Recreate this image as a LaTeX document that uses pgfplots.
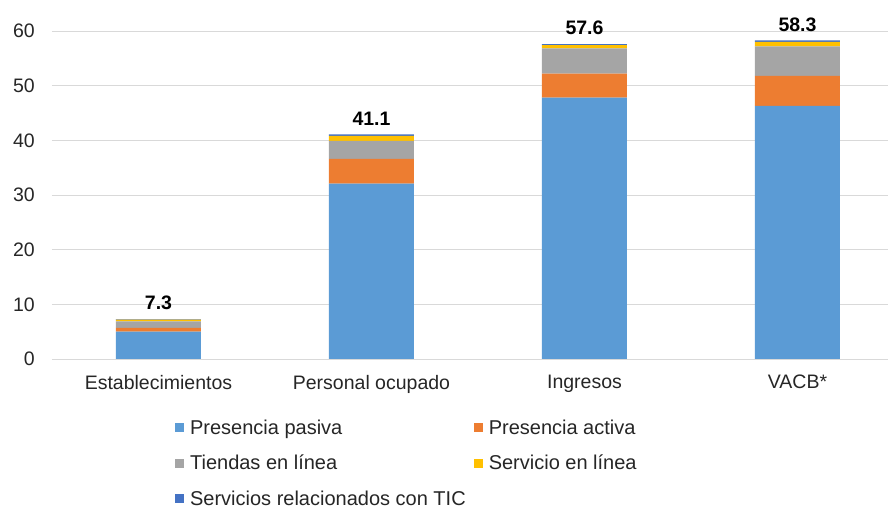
\documentclass[border=0pt]{standalone}
\usepackage{pgfplots}
\pgfplotsset{compat=1.18}
\usepackage{fontspec}
\setmainfont{Liberation Sans}
\definecolor{cpas}{HTML}{5B9BD5}
\definecolor{cact}{HTML}{ED7D31}
\definecolor{ctie}{HTML}{A5A5A5}
\definecolor{cser}{HTML}{FFC000}
\definecolor{ctic}{HTML}{4472C4}
\definecolor{cgrid}{HTML}{D9D9D9}
\begin{document}
\begin{tikzpicture}
\useasboundingbox (-52pt,-151pt) rectangle (836pt,359pt);
\begin{axis}[
  at={(0,0)}, anchor=south west,
  scale only axis, width=836pt, height=328pt,
  ybar stacked, bar width=85pt,
  xmin=-0.5, xmax=3.425, ymin=0, ymax=60,
  ytick={0,10,...,60},
  xtick={0,1,2,3},
  xticklabels={Establecimientos, Personal ocupado, Ingresos, VACB*},
  axis line style={draw=none},
  major tick length=0pt,
  ymajorgrids, grid style={cgrid, line width=0.8pt},
  /pgf/number format/assume math mode=true,
  tick label style={font=\fontsize{19.5}{23}\selectfont, text=black!85},
  yticklabel style={inner sep=0pt, xshift=-17pt},
  xticklabel style={inner sep=0pt, yshift=-16pt},
  clip=false,
  legend columns=2,
  legend style={draw=none, at={(0.147,-0.178)}, anchor=north west, inner sep=0pt,
    font=\fontsize{20}{24}\selectfont, text=black!85,
    cells={anchor=west}, row sep=15.5pt,
    /tikz/every even column/.append style={column sep=6pt}},
  legend image code/.code={\fill[#1] (0pt,-4.5pt) rectangle (9pt,4.5pt); \path (13pt,0pt);},
]
\addplot[fill=cpas, draw=none] coordinates {(0,5.0) (1,32.1) (2,47.8) (3,46.3)};
\addplot[fill=cact, draw=none] coordinates {(0,0.7) (1,4.5) (2,4.4) (3,5.5)};
\addplot[fill=ctie, draw=none] coordinates {(0,1.2) (1,3.3) (2,4.6) (3,5.4)};
\addplot[fill=cser, draw=none] coordinates {(0,0.3) (1,0.9) (2,0.6) (3,0.8)};
\addplot[fill=ctic, draw=none,
  nodes near coords, point meta=explicit symbolic,
  nodes near coords style={font=\fontsize{19.5}{23}\selectfont\bfseries, text=black, anchor=base, inner sep=0pt, yshift=10pt}]
  coordinates {(0,0.1) [7.3] (1,0.3) [41.1] (2,0.2) [57.6] (3,0.3) [58.3]};
\legend{Presencia pasiva, Presencia activa, Tiendas en línea, Servicio en línea, Servicios relacionados con TIC}
\end{axis}
\end{tikzpicture}
\end{document}
